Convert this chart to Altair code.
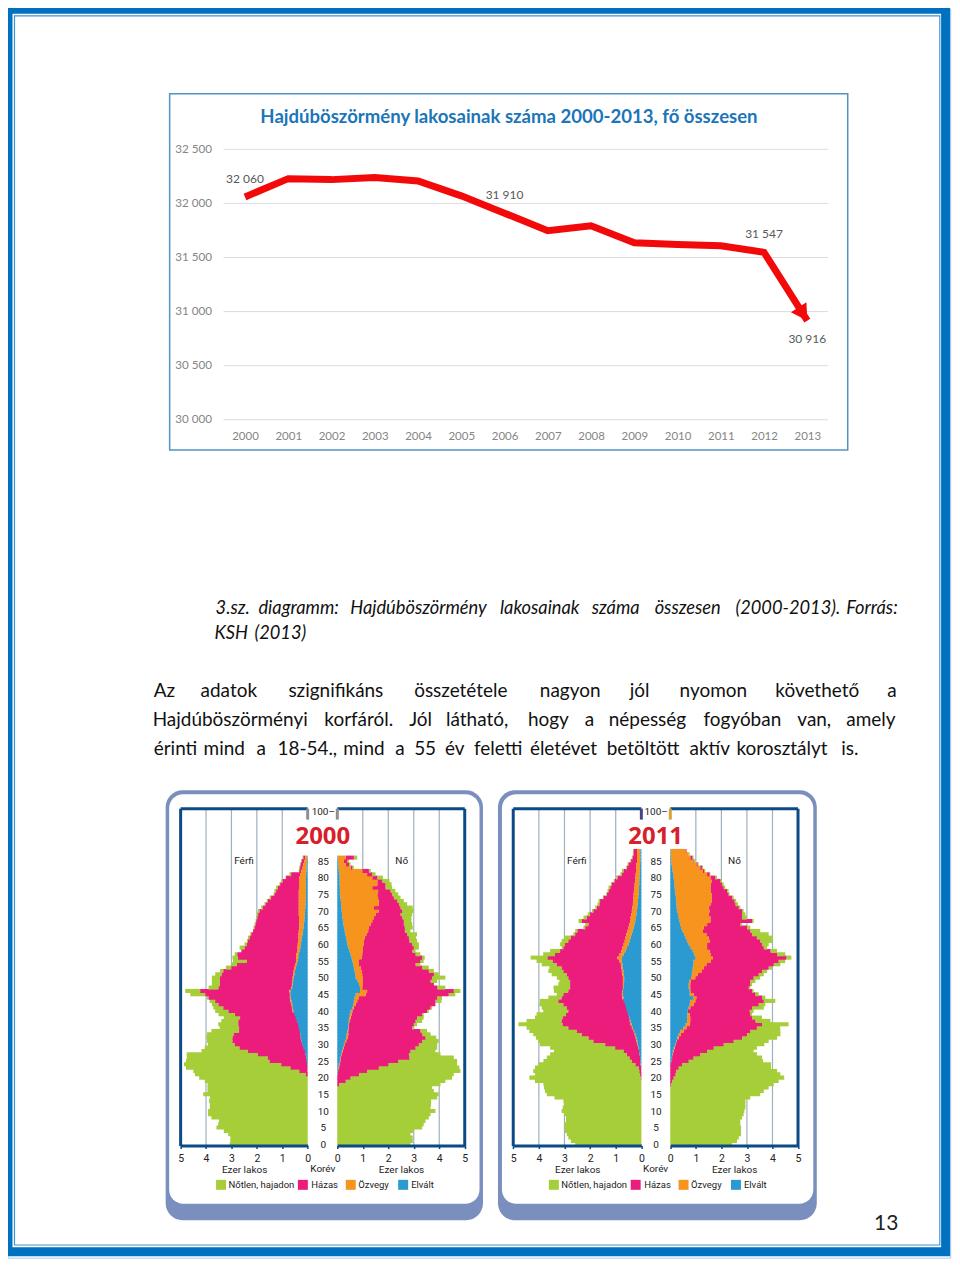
import altair as alt
import pandas as pd

W, H = 946, 1252
def px(v):
    return v - 8

# ---------- line chart data ----------
years = list(range(2000, 2014))
population = [32060, 32229, 32220, 32239, 32208, 32070, 31910, 31747, 31793, 31636, 31620, 31608, 31547, 30916]
grid_values = [30000, 30500, 31000, 31500, 32000, 32500]
chart_title = "Hajdúböszörmény lakosainak száma 2000-2013, fő összesen"

# ---------- population pyramids: cumulative edge per age, thousand residents ----------
Z20 = [0] * 20
m00_green = [3.07,3.04,3.04,3.13,3.30,3.59,3.52,3.49,3.79,3.92,
 3.92,3.85,3.85,3.88,3.85,4.11,3.94,3.94,3.94,4.05,
 4.27,4.44,4.50,4.79,4.87,4.79,4.76,4.76,4.18,4.05,
 3.92,3.96,3.98,3.96,3.79,3.46,3.52,3.40,3.30,3.51,
 3.64,3.71,3.77,3.86,3.97,4.62,4.82,3.90,3.77,3.77,
 3.77,3.64,3.45,3.22,3.00,2.94,2.96,2.87,2.61,2.68,
 2.48,2.39,2.35,2.26,2.15,2.13,2.09,2.05,2.02,2.00,
 1.96,1.83,1.70,1.61,1.50,1.34,1.31,1.24,1.11,1.04,
 .87,.72,.35,.33,.30,.26,.20]
m00_pink = Z20 + [0,.07,.33,.68,1.04,1.50,1.57,1.96,2.35,2.68,
 2.87,2.96,2.96,2.91,2.70,2.70,2.73,2.73,2.66,2.86,
 3.12,3.32,3.51,3.64,3.90,4.03,4.23,3.51,3.45,3.45,
 3.45,3.38,3.32,3.00,2.78,2.39,2.74,2.77,2.61,2.48,
 2.39,2.35,2.28,2.22,2.15,2.09,2.05,2.02,1.98,1.95,
 1.89,1.76,1.66,1.57,1.44,1.31,1.24,1.17,1.08,.98,
 .85,.65,.33,.30,.27,.23,.17]
m00_orange = Z20 + [0,0,.01,.01,.02,.03,.06,.08,.10,.15,
 .20,.24,.27,.29,.30,.33,.37,.42,.46,.50,
 .59,.62,.65,.68,.70,.70,.72,.65,.62,.60,
 .59,.57,.55,.52,.50,.46,.45,.45,.42,.40,
 .39,.38,.36,.36,.35,.33,.33,.34,.34,.35,
 .35,.35,.35,.35,.35,.35,.35,.34,.34,.34,
 .33,.30,.25,.20,.17,.14,.10]
m00_blue = Z20 + [0,0,0,.01,.02,.04,.06,.08,.11,.16,
 .22,.24,.26,.29,.32,.35,.38,.43,.47,.52,
 .56,.58,.61,.64,.66,.68,.68,.61,.59,.57,
 .55,.52,.50,.46,.43,.39,.37,.34,.32,.29,
 .26,.25,.23,.20,.18,.16,.15,.13,.12,.11,
 .10,.09,.08,.08,.07,.07,.07,.07,.07,.07,
 .07,.06,.05,.04,.03,.03,.02]
f00_green = [2.87,2.96,2.96,2.87,3.00,3.33,3.39,3.46,3.59,3.66,
 3.85,3.66,3.68,3.68,3.92,3.98,3.79,3.72,4.05,4.24,
 4.50,4.57,4.83,4.79,4.70,4.70,4.57,4.05,3.85,3.92,
 3.92,3.98,3.88,3.66,3.52,3.00,3.13,3.33,3.39,3.39,
 3.59,3.72,3.85,4.09,4.11,4.63,4.83,4.24,3.79,3.92,
 4.24,3.98,3.79,3.59,3.26,3.39,3.43,3.26,3.07,3.20,
 3.20,3.13,3.09,3.13,2.87,2.96,2.94,2.91,2.91,2.94,
 3.00,2.96,2.74,2.61,2.48,2.39,2.28,2.15,2.13,2.05,
 1.79,1.50,1.31,.65,.52,.46,.78]
f00_pink = [0]*18 + [.07,.33,.52,.85,1.17,1.63,2.00,2.39,2.83,2.81,2.87,3.07,
 3.20,3.33,3.46,3.33,3.26,2.94,3.00,3.07,3.13,3.33,
 3.52,3.66,3.85,3.85,3.92,4.37,4.57,3.92,3.79,3.66,
 3.72,3.79,3.59,3.33,3.07,3.26,3.33,3.07,2.94,3.00,
 2.94,2.83,2.81,2.74,2.65,2.65,2.61,2.61,2.55,2.48,
 2.55,2.48,2.42,2.35,2.22,2.15,2.09,1.89,1.89,1.76,
 1.57,1.37,1.24,.59,.46,.39,.65]
f00_orange = Z20 + [0,.01,.03,.07,.09,.12,.14,.17,.22,.26,
 .30,.35,.40,.43,.43,.46,.46,.50,.52,.56,
 .59,.65,.72,.78,.85,1.11,1.17,.98,1.00,1.00,
 1.00,.98,.95,.91,.85,.85,.95,.98,1.00,1.00,
 1.04,1.04,1.08,1.14,1.21,1.24,1.31,1.37,1.44,1.50,
 1.63,1.44,1.63,1.63,1.60,1.57,1.60,1.37,1.57,1.57,
 1.37,1.17,.98,.52,.33,.26,.33]
f00_blue = Z20 + [0,.01,.02,.04,.06,.10,.12,.15,.18,.22,
 .26,.30,.34,.37,.40,.43,.44,.45,.46,.49,
 .52,.60,.62,.65,.68,.72,.89,.89,.85,.80,
 .72,.70,.68,.65,.62,.59,.56,.52,.48,.44,
 .39,.37,.34,.32,.29,.26,.24,.22,.20,.19,
 .17,.16,.15,.14,.12,.10,.10,.10,.09,.09,
 .09,.08,.06,.05,.04,.03,.02]
m11_green = [2.58,2.75,2.85,2.91,2.98,2.98,3.02,2.94,2.94,3.02,
 3.11,3.07,3.00,3.04,3.39,3.69,3.76,3.80,3.82,4.15,
 4.37,4.15,4.22,4.15,4.02,3.82,3.69,3.56,3.41,3.56,
 3.96,4.02,4.11,4.22,4.37,4.48,4.80,4.48,4.15,4.09,
 3.83,3.89,3.98,3.96,3.63,3.30,3.41,3.43,3.24,3.20,
 3.30,3.50,3.63,3.59,3.89,4.09,4.32,3.83,3.56,3.11,
 3.17,3.11,3.02,2.65,2.58,2.26,2.19,2.45,2.26,2.09,
 1.93,1.80,1.71,1.67,1.50,1.37,1.32,1.28,1.19,1.08,
 .98,.82,.76,.59,.54,.43,.37,.33,.33]
m11_pink = Z20 + [.02,.05,.08,.10,.23,.37,.46,.56,.69,1.02,
 1.41,1.87,2.06,2.32,2.52,2.85,3.07,3.11,3.07,2.94,
 2.85,2.91,3.04,3.24,3.11,3.04,2.85,2.78,2.78,2.78,
 2.85,2.91,3.04,3.11,3.30,3.46,3.66,3.37,3.17,3.04,
 2.98,2.85,2.75,2.58,2.49,2.19,2.06,2.32,2.13,2.00,
 1.87,1.74,1.63,1.61,1.48,1.34,1.28,1.21,1.15,1.04,
 .93,.76,.69,.56,.50,.40,.34,.30,.30]
m11_orange = Z20 + [0,0,.01,.01,.03,.04,.05,.07,.09,.13,
 .17,.19,.22,.26,.30,.37,.42,.45,.48,.52,
 .54,.58,.62,.68,.74,.76,.74,.72,.72,.72,
 .72,.74,.76,.78,.80,.85,.93,.85,.78,.74,
 .69,.65,.62,.58,.54,.50,.47,.44,.42,.39,
 .37,.35,.33,.32,.31,.30,.29,.27,.26,.24,
 .23,.22,.21,.20,.19,.17,.17,.17,.17]
m11_blue = Z20 + [0,0,0,.01,.02,.04,.05,.07,.09,.11,
 .14,.16,.19,.23,.28,.33,.38,.42,.47,.52,
 .56,.60,.64,.68,.70,.72,.72,.70,.68,.67,
 .67,.68,.70,.72,.74,.76,.76,.69,.62,.56,
 .50,.46,.42,.38,.34,.30,.27,.24,.21,.19,
 .17,.16,.14,.13,.12,.10,.10,.09,.08,.08,
 .07,.06,.06,.05,.05,.04,.04,.04,.04]
f11_green = [2.42,2.61,2.68,2.77,2.77,2.77,2.74,2.74,2.81,2.87,
 2.90,2.94,2.94,2.94,3.13,3.52,3.66,3.85,4.05,4.24,
 4.46,4.31,4.18,3.94,3.94,3.63,3.59,3.39,3.26,3.39,
 3.68,3.85,4.18,4.31,4.31,4.30,4.63,3.92,3.59,3.20,
 3.26,3.66,3.72,4.11,3.72,3.46,3.26,3.13,3.20,3.33,
 3.52,3.66,3.79,3.98,4.31,4.50,4.74,4.50,4.18,3.79,
 3.85,3.98,4.02,3.85,3.52,3.13,2.81,3.26,3.00,2.94,
 2.87,2.74,2.65,2.58,2.48,2.32,2.28,2.15,2.09,2.02,
 1.83,1.57,1.37,1.28,1.11,.98,.91,.76,.65]
f11_pink = [0]*18 + [.03,.07,.13,.20,.23,.33,.46,.72,.91,1.17,1.44,1.70,
 2.09,2.48,2.81,3.00,3.13,3.39,3.59,3.33,3.20,3.13,
 3.11,3.20,3.46,3.66,3.59,3.33,3.20,3.07,3.13,3.13,
 3.26,3.46,3.59,3.85,4.05,4.24,4.54,4.18,3.92,3.66,
 3.59,3.52,3.39,3.20,3.13,3.00,2.74,3.20,2.81,2.81,
 2.81,2.68,2.55,2.51,2.42,2.28,2.22,2.09,2.02,1.96,
 1.76,1.54,1.33,1.24,1.07,.91,.87,.72,.63]
f11_orange = Z20 + [0,0,0,0,0,.04,.07,.09,.13,.17,
 .22,.26,.33,.42,.52,.63,.76,.78,.78,.76,
 .68,.78,.91,.98,1.02,.91,.81,.78,.78,.81,
 .98,1.07,1.24,1.31,1.41,1.59,1.67,1.57,1.54,1.44,
 1.44,1.54,1.50,1.41,1.28,1.31,1.44,1.57,1.57,1.50,
 1.54,1.50,1.57,1.63,1.63,1.63,1.59,1.57,1.59,1.63,
 1.57,1.44,1.28,1.17,1.02,.89,.78,.72,.59]
f11_blue = Z20 + [0,0,0,0,0,.04,.06,.08,.10,.14,
 .20,.24,.28,.33,.38,.52,.60,.66,.66,.66,
 .68,.72,.76,.78,.91,.76,.76,.72,.72,.74,
 .81,.84,.86,.88,.90,.91,.98,.94,.88,.80,
 .72,.65,.60,.54,.48,.42,.38,.36,.33,.30,
 .26,.25,.24,.23,.22,.20,.18,.17,.16,.15,
 .13,.11,.09,.07,.05,.03,.03,.02,.02]

age_ticks = list(range(0, 90, 5)) + [100]
x_ticks = [0, 1, 2, 3, 4, 5]
seg_names = ["Nőtlen, hajadon", "Házas", "Özvegy", "Elvált"]
seg_colors = ["#a6ce39", "#ec1c7c", "#f7941d", "#2b9ad0"]

# ---------- page text ----------
caption_lines = [
    (608.5, [("3.sz.", 216), ("diagramm:", 259), ("Hajdúböszörmény", 351), ("lakosainak", 501), ("száma", 593),
           ("összesen", 656), ("(2000-2013).", 737), ("Forrás:", 848)]),
    (634.5, [("KSH", 215), ("(2013)", 255)]),
]
body_lines = [
    (691, [("Az", 154), ("adatok", 201), ("szignifikáns", 289), ("összetétele", 415), ("nagyon", 541), ("jól", 631),
           ("nyomon", 681), ("követhető", 777), ("a", 889)]),
    (720, [("Hajdúböszörményi", 153), ("korfáról.", 325), ("Jól", 410), ("látható,", 447), ("hogy", 529), ("a", 586),
           ("népesség", 610), ("fogyóban", 705), ("van,", 799), ("amely", 848)]),
    (749, [("érinti", 154), ("mind", 204), ("a", 257), ("18-54.,", 278), ("mind", 344), ("a", 396), ("55", 415),
           ("év", 446), ("feletti", 475), ("életévet", 531), ("betöltött", 608), ("aktív", 691), ("korosztályt", 738),
           ("is.", 843)]),
]

ONE = alt.Data(values=[{}])
layers = []

def box(x0, x1, y0, y1, **kw):
    return alt.Chart(ONE).mark_rect(**kw).encode(
        x=alt.value(px(x0)), x2=alt.value(px(x1)), y=alt.value(px(y0)), y2=alt.value(px(y1)))

def label(text, x, y, **kw):
    return alt.Chart(ONE).mark_text(text=text, **kw).encode(x=alt.value(px(x)), y=alt.value(px(y)))

# page frame
layers.append(box(8, 952.7, 8, 1259.5, fillOpacity=0, stroke="#a9cdea", strokeWidth=1))
layers.append(box(8, 947.6, 8, 1253, fillOpacity=0, stroke="#0070c0", strokeWidth=9))
layers.append(box(14.5, 941.8, 14.5, 1246.3, fillOpacity=0, stroke="#3f92d2", strokeWidth=1.2))

# ---------- line chart ----------
layers.append(box(170, 849.5, 92.5, 449.5, fillOpacity=0, stroke="#4f94c4", strokeWidth=1.5))
ys = alt.Scale(domain=[30000, 32500], range=[px(419.3), px(148.3)], nice=False, zero=False)
xs = alt.Scale(domain=[2000, 2013], range=[px(245.5), px(809)], nice=False, zero=False)
grid_scale = alt.Scale(domain=[30000, 32500], range=[px(419.3), px(148.3)], nice=False, zero=False)
layers.append(
    alt.Chart(pd.DataFrame({"v": grid_values})).mark_rule(color="#dcdcdc", strokeWidth=1).encode(
        y=alt.Y("v:Q", scale=grid_scale, axis=None), x=alt.value(px(224)), x2=alt.value(px(830)))
)
line_df = pd.DataFrame({"year": years, "pop": population})
layers.append(
    alt.Chart(line_df).mark_line(color="#f20a0a", strokeWidth=7, strokeCap="butt", strokeJoin="miter").encode(
        x=alt.X("year:Q", scale=xs, axis=alt.Axis(orient="bottom", values=years, format="d", domain=False, ticks=False,
                                                  grid=False, title=None, labelFont="Lato", labelFontSize=11.5,
                                                  labelColor="#858585", labelPadding=0, labelBaseline="middle",
                                                  labelFlush=False, offset=px(436) - H)),
        y=alt.Y("pop:Q", scale=ys, axis=alt.Axis(orient="left", values=grid_values, domain=False, ticks=False, grid=False,
                                                 title=None, labelFont="Lato", labelFontSize=11.7, labelColor="#858585",
                                                 labelPadding=0, labelAlign="right", labelFlush=False, labelOffset=-1,
                                                 labelExpr="replace(format(datum.value, ','), ',', ' ')",
                                                 offset=-px(212))),
    )
)
arrow_df = line_df.tail(1)
xs2 = alt.Scale(domain=[2000, 2013], range=[px(245.5), px(809)], nice=False, zero=False)
layers.append(
    alt.Chart(arrow_df).mark_point(shape="triangle-up", filled=True, color="#f20a0a", opacity=1, size=340, angle=147,
                                   xOffset=-4.3, yOffset=-6.7).encode(
        x=alt.X("year:Q", scale=xs2, axis=None), y=alt.Y("pop:Q", scale=ys, axis=None))
)
for yr, pop, txt, dy in [(2000, 32060, "32 060", -18), (2006, 31910, "31 910", -18),
                         (2012, 31547, "31 547", -18), (2013, 30916, "30 916", 18)]:
    layers.append(
        alt.Chart(pd.DataFrame({"year": [yr], "pop": [pop], "t": [txt]})).mark_text(
            font="Lato", fontSize=12, color="#595959", dy=dy).encode(
            x=alt.X("year:Q", scale=xs2, axis=None), y=alt.Y("pop:Q", scale=ys, axis=None), text="t:N")
    )
layers.append(label(chart_title, 510, 116, font="Lato", fontWeight="bold", fontSize=18.6, color="#1b75b8"))

# ---------- caption and body ----------
for y, words in caption_lines:
    for w, x in words:
        layers.append(label(w, x, y, font="Lato", fontStyle="italic", fontSize=18.3, color="#111111", align="left",
                            baseline="middle"))
for y, words in body_lines:
    for w, x in words:
        layers.append(label(w, x, y, font="Lato", fontSize=19, color="#111111", align="left", baseline="middle"))
layers.append(label("13", 888, 1225, font="Lato", fontSize=21, color="#222222"))

# ---------- pyramids ----------
NARROW = "Roboto"
TXT = 9.5

def half(edges, zero_px, five_px, age_axis, axis_title="Ezer lakos"):
    blue, orange, pink, green = edges
    rows = []
    for age, (b, o, p, g) in enumerate(zip(blue, orange, pink, green)):
        cuts = [p, o, b, 0]
        tops = [g, p, o, b]
        for name, lo, hi in zip(seg_names, cuts, tops):
            if hi > lo:
                rows.append({"age0": age - 0.5, "age1": age + 0.72, "x0": lo, "x1": hi, "seg": name})
    sx = alt.Scale(domain=[0, 5], range=[px(zero_px), px(five_px)], nice=False, zero=False)
    sy = alt.Scale(domain=[0, 100], range=[px(1145.7), px(811.7)], nice=False, zero=False)
    out = []
    out.append(alt.Chart(pd.DataFrame({"v": [1, 2, 3, 4]})).mark_rule(color="#9fb0bf", strokeWidth=1.2).encode(
        x=alt.X("v:Q", scale=sx, axis=None), y=alt.value(px(809)), y2=alt.value(px(1146))))
    out.append(alt.Chart(pd.DataFrame(rows)).mark_rect().encode(
        x=alt.X("x0:Q", scale=sx, axis=alt.Axis(orient="bottom", values=x_ticks, format="d", grid=False, title=axis_title,
                                                titleFont=NARROW, titleFontSize=TXT + 0.5, titleFontWeight="normal",
                                                titleColor="#222222", titlePadding=0, labelFont=NARROW, labelFontSize=TXT + 1,
                                                labelColor="#222222", labelPadding=5, labelFlush=False,
                                                domainColor="#0b4a84", domainWidth=3, tickColor="#0b4a84", tickWidth=1.5,
                                                tickSize=3, zindex=1, offset=px(1146.7) - H)),
        x2="x1:Q",
        y=alt.Y("age0:Q", scale=sy, axis=age_axis),
        y2="age1:Q",
        color=alt.Color("seg:N", scale=alt.Scale(domain=seg_names, range=seg_colors), legend=None),
    ))
    out.append(alt.Chart(pd.DataFrame({"v": [5]})).mark_rule(color="#0b4a84", strokeWidth=3).encode(
        x=alt.X("v:Q", scale=sx, axis=None), y=alt.value(px(809)), y2=alt.value(px(1147))))
    out.append(alt.Chart(pd.DataFrame({"a": [5], "b": [0]})).mark_rule(color="#0b4a84", strokeWidth=3).encode(
        x=alt.X("a:Q", scale=sx, axis=None), x2="b:Q", y=alt.value(px(809))))
    return out

def pyramid(year, left_edges, right_edges, card, l0, l5, r0, r5, centre, stub_l, stub_r):
    cx0, cx1, wx0, wx1 = card
    out = [
        box(cx0, cx1, 790.5, 1221.5, fill="#7b8fbe", cornerRadius=17),
        box(wx0, wx1, 794.5, 1205, fill="#ffffff", cornerRadius=14),
    ]
    age_axis = alt.Axis(orient="left", values=age_ticks, domain=False, ticks=False, grid=False, title=None,
                        labelFont=NARROW, labelFontSize=TXT + 0.5, labelColor="#222222", labelPadding=0, labelAlign="center",
                        labelFlush=False, labelExpr="datum.value == 100 ? '100–' : datum.label",
                        zindex=1, offset=-px(centre))
    out += half(left_edges, l0, l5, age_axis)
    out += half(right_edges, r0, r5, None)
    sxl = alt.Scale(domain=[0, 5], range=[px(l0), px(l5)], nice=False, zero=False)
    sxr = alt.Scale(domain=[0, 5], range=[px(r0), px(r5)], nice=False, zero=False)
    out.append(alt.Chart(pd.DataFrame({"v": [0]})).mark_rule(color=stub_l, strokeWidth=3).encode(
        x=alt.X("v:Q", scale=sxl, axis=None), y=alt.value(px(809)), y2=alt.value(px(820))))
    out.append(alt.Chart(pd.DataFrame({"v": [0]})).mark_rule(color=stub_r, strokeWidth=3).encode(
        x=alt.X("v:Q", scale=sxr, axis=None), y=alt.value(px(809)), y2=alt.value(px(820))))
    out.append(label(year, centre, 837, font="Open Sans", fontWeight="bold", fontSize=24, color="#d7202a"))
    out.append(label("Férfi", centre - 79, 861, font=NARROW, fontSize=TXT + 0.5, color="#222222"))
    out.append(label("Nő", centre + 79, 861, font=NARROW, fontSize=TXT + 0.5, color="#222222"))
    out.append(label("Korév", centre, 1170, font=NARROW, fontSize=TXT + 0.5, color="#222222"))
    sw_x = [centre - 102, centre - 20, centre + 28, centre + 80.5]
    lb_x = [centre - 94.5, centre - 11.5, centre + 35.5, centre + 88.5]
    for name, colour, sx_, lx in zip(seg_names, seg_colors, sw_x, lb_x):
        out.append(box(sx_ - 5, sx_ + 5, 1181, 1191, fill=colour))
        out.append(label(name, lx, 1186, font=NARROW, fontSize=TXT, color="#222222", align="left"))
    return out

layers += pyramid("2000", (m00_blue, m00_orange, m00_pink, m00_green), (f00_blue, f00_orange, f00_pink, f00_green),
                  (166, 484, 169.5, 480.5), 308.3, 181, 338, 465.7, 323.5, "#8a9094", "#8a9094")
layers += pyramid("2011", (m11_blue, m11_orange, m11_pink, m11_green), (f11_blue, f11_orange, f11_pink, f11_green),
                  (499, 818.5, 503, 815), 642.7, 514.3, 671.7, 799.7, 657, "#45458a", "#d8a03a")

chart = alt.layer(*layers).resolve_scale(x="independent", y="independent").resolve_axis(
    x="independent", y="independent"
).properties(width=W, height=H, padding=0, autosize=alt.AutoSizeParams(type="none")).configure_view(stroke=None)

chart.save("out.html", embed_options={"renderer": "svg", "actions": False})
